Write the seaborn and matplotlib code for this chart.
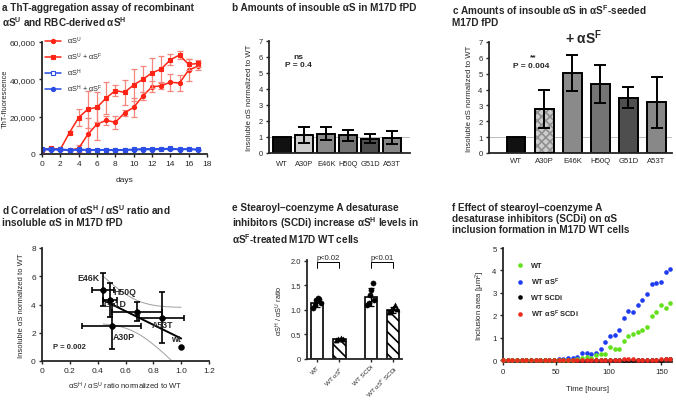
import numpy as np
import matplotlib
matplotlib.use("Agg")
import matplotlib.pyplot as plt
import seaborn as sns

# ---- a: ThT aggregation assay ----
days = list(range(18))
su = [2500, 2500, 2500, 2000, 3000, 10500, 16000, 18000, 17000, 22000, 25000,
      31000, 36000, 36500, 38500, 38000, 45000, 47000]
su_err = [500, 500, 300, 300, 2000, 9000, 8500, 2500, 3500, 1500, 5000,
          2000, 3000, 1500, 4500, 4500, 6000, 2000]
su_sf = [2000, 3000, 2500, 11500, 19500, 24000, 25000, 30000, 34000, 33000, 37000,
         40000, 43500, 45500, 50500, 53000, 48000, 48500]
su_sf_err = [500, 800, 300, 1000, 4500, 10000, 8000, 8500, 3000, 6500, 8500,
             7000, 8000, 7000, 3000, 2000, 3000, 2000]
sh = [2800, 2700, 2600, 2200, 2500, 2300, 2300, 2300, 2200, 2300, 2500,
      2800, 2800, 2800, 3000, 2600, 2800, 2500]
sh_sf = [2300, 2300, 2200, 2000, 2200, 2100, 2100, 2100, 2000, 2100, 2200,
         2400, 2400, 2500, 2600, 2400, 2500, 2200]

# ---- b / c: insoluble aS in fPD mutants ----
mutants = ['WT', 'A30P', 'E46K', 'H50Q', 'G51D', 'A53T']
b_vals = [1.0, 1.1, 1.2, 1.1, 0.9, 0.95]
b_err = [0, 0.5, 0.4, 0.35, 0.3, 0.4]
c_vals = [1.0, 2.8, 5.05, 4.35, 3.5, 3.2]
c_err = [0, 1.2, 1.15, 1.2, 0.65, 1.6]

# ---- d: correlation ----
d_labels = ['wt', 'A30P', 'E46K', 'H50Q', 'G51D', 'A53T']
d_ratio = [1.0, 0.5, 0.44, 0.49, 0.68, 0.86]
d_ratio_err = [0, 0.21, 0.08, 0.05, 0.18, 0.16]
d_insol = [1.0, 2.45, 5.05, 4.35, 3.5, 3.05]
d_insol_err = [0, 1.6, 1.15, 1.2, 0.65, 1.8]

# ---- e: SCDi and aSH/aSU ratio ----
e_groups = ['WT', r'WT αS$^{\mathrm{F}}$', 'WT SCDi', r'WT αS$^{\mathrm{F}}$ SCDi']
e_means = [1.15, 0.40, 1.27, 1.00]
e_err = [0.08, 0.02, 0.18, 0.06]
e_wt = [1.05, 1.1, 1.2, 1.25, 1.22, 1.15]
e_wt_sf = [0.38, 0.40, 0.42, 0.41]
e_scdi = [1.1, 1.15, 1.3, 1.4, 1.55, 1.2]
e_sf_scdi = [0.95, 1.0, 1.05, 1.1, 1.02]

# ---- f: inclusion formation ----
hours = [0, 4.4, 8.8, 13.2, 17.6, 22, 26.4, 30.8, 35.2, 39.6, 44, 48.4, 52.8,
         57.2, 61.6, 66, 70.4, 74.8, 79.2, 83.6, 88, 92.4, 96.8, 101.2, 105.6,
         110, 114.4, 118.8, 123.2, 127.6, 132, 136.4, 140.8, 145.2, 149.6, 154, 158.4]
f_wt = [0, 0, 0, 0, 0, 0, 0, 0, 0, 0, 0, 0, 0, 0,
        0.02, 0.03, 0.05, 0.1, 0.15, 0.12, 0.22, 0.27, 0.28, 0.6, 0.52, 0.52,
        0.86, 1.08, 1.19, 1.24, 1.34, 1.5, 1.95, 2.13, 2.46, 2.32, 2.57]
f_wt_sf = [0, 0, 0, 0, 0, 0, 0.02, 0.03, 0.02, 0.03, 0.03, 0.02, 0.05, 0.05,
           0.08, 0.12, 0.15, 0.3, 0.31, 0.27, 0.34, 0.49, 0.8, 1.06, 1.12, 1.35,
           1.86, 2.2, 2.17, 2.47, 2.69, 2.97, 3.39, 3.44, 3.47, 3.91, 4.06]
f_scdi = [0, 0, 0, 0, 0, 0, 0, -0.01, 0, 0, 0, 0, 0, 0, 0, 0, 0, 0,
          0.01, 0.02, 0.01, 0.01, 0.02, 0.01, 0.01, 0.02, 0.01, 0.02, 0.02,
          0.01, 0.02, 0.02, 0.02, 0.03, 0.02, 0.04, 0.06]
f_sf_scdi = [0, 0, 0, 0, 0, 0, 0.03, 0.02, 0.02, 0.03, 0.01, 0, 0, 0, 0, 0,
             0, 0, 0, 0, 0, 0, 0, 0, 0.01, 0.02, 0.04, 0.05, 0.04, 0.03, 0.03,
             0.02, 0.02, 0.03, 0.04, 0.05, 0.04]

sns.set_theme(style='ticks')
plt.rcParams['font.family'] = ['Liberation Sans', 'DejaVu Sans']
plt.rcParams['mathtext.fontset'] = 'custom'
plt.rcParams['mathtext.rm'] = 'Liberation Sans'
plt.rcParams['mathtext.it'] = 'Liberation Sans:italic'
plt.rcParams['mathtext.bf'] = 'Liberation Sans:bold'
plt.rcParams['hatch.linewidth'] = 1.2
plt.rcParams['xtick.labelsize'] = 5.5
plt.rcParams['ytick.labelsize'] = 5.5
plt.rcParams['axes.labelsize'] = 5.5
plt.rcParams['axes.linewidth'] = 1.3
plt.rcParams['xtick.major.width'] = 1.0
plt.rcParams['ytick.major.width'] = 1.0
plt.rcParams['xtick.major.size'] = 2.5
plt.rcParams['ytick.major.size'] = 2.5
plt.rcParams['xtick.major.pad'] = 2
plt.rcParams['ytick.major.pad'] = 2

W, H = 676, 402
fig = plt.figure(figsize=(W / 100, H / 100), dpi=100)


def add_ax(l, t, r, b):
    return fig.add_axes([l / W, 1 - b / H, (r - l) / W, (b - t) / H])


def title(x, y, s):
    fig.text(x / W, 1 - y / H, s, ha='left', va='top', fontsize=7.2,
             fontweight='bold', linespacing=1.15)


def sup(s, bold=True):
    return r'$^{\mathbf{%s}}$' % s if bold else r'$^{\mathrm{%s}}$' % s


# --- panel a ---
title(2, 3, 'a ThT-aggregation assay of recombinant\nαS' + sup('U') +
      ' and RBC-derived αS' + sup('H'))
ax = add_ax(42, 43, 207, 155)
red, red_err = '#ff2415', '#f5847a'
blue, blue_err = '#2a4de6', '#8ea2f2'
series_a = [
    (su, su_err, red, red_err, 'o', red, 'αS' + sup('U', False)),
    (su_sf, su_sf_err, red, red_err, 's', red, 'αS' + sup('U', False) + ' + αS' + sup('F', False)),
    (sh, [250] * 18, blue, blue_err, 's', 'white', 'αS' + sup('H', False)),
    (sh_sf, [200] * 18, blue, blue_err, 'o', blue, 'αS' + sup('H', False) + ' + αS' + sup('F', False)),
]
for vals, errs, col, ecol, mk, mfc, lab in series_a:
    ax.errorbar(days, vals, yerr=errs, fmt='none', ecolor=ecol, capsize=2,
                elinewidth=0.9, capthick=0.9)
    sns.lineplot(x=days, y=vals, ax=ax, color=col, marker=mk, markersize=3,
                 markerfacecolor=mfc, markeredgecolor=col, markeredgewidth=0.8,
                 lw=1.1, label=lab)
ax.set_xlim(0, 18)
ax.set_ylim(0, 60000)
ax.set_xticks(range(0, 19, 2))
ax.set_yticks([0, 20000, 40000, 60000])
ax.set_yticklabels(['0', '20,000', '40,000', '60,000'])
ax.tick_params(labelsize=6)
ax.set_xlabel('days', fontsize=6, labelpad=6)
ax.set_ylabel('ThT-fluorescence', fontsize=5.4)
ax.yaxis.set_label_coords(-0.2, 0.5)
ax.legend(loc='upper left', bbox_to_anchor=(0.0, 1.09), frameon=False,
          fontsize=5.3, handlelength=2.2, labelspacing=0.65, borderaxespad=0)
sns.despine(ax=ax)

# --- panel b ---
title(232, 3, 'b Amounts of insouble αS in M17D fPD')
bar_cols = ['#111111', '#cdcdcd', '#8a8a8a', '#747474', '#4e4e4e', '#888888']
ax = add_ax(269, 42, 410, 154)
ax.axhline(1, color='#b0b0b0', lw=0.6, zorder=0)
sns.barplot(x=mutants, y=b_vals, hue=mutants, palette=bar_cols, legend=False,
            ax=ax, width=0.82, edgecolor='black', linewidth=1.4, saturation=1)
ax.errorbar(range(1, 6), b_vals[1:], yerr=b_err[1:], fmt='none', ecolor='black',
            capsize=4, elinewidth=1.4, capthick=1.4)
ax.set_xlim(-0.6, 5.8)
ax.set_ylim(0, 7)
ax.set_yticks(range(8))
ax.set_xlabel('')
ax.set_ylabel('Insoluble αS normalized to WT', fontsize=5.6)
ax.tick_params(axis='x', length=0, pad=5)
ax.tick_params(labelsize=5.4)
ax.text(0.73, 6.0, 'ns', ha='center', va='center', fontsize=6, fontweight='bold')
ax.text(0.73, 5.5, 'P = 0.4', ha='center', va='center', fontsize=6, fontweight='bold')
sns.despine(ax=ax)

# --- panel c ---
title(452, 3, 'c Amounts of insouble αS in αS' + sup('F') + '-seeded\nM17D fPD')
ax = add_ax(489, 43, 672, 154)
ax.axhline(1, color='#b0b0b0', lw=0.6, zorder=0)
sns.barplot(x=mutants, y=c_vals, hue=mutants, palette=bar_cols, legend=False,
            ax=ax, width=0.66, edgecolor='black', linewidth=1.4, saturation=1)
ax.bar(1, c_vals[1], width=0.66, facecolor='none', edgecolor='#909090', lw=0,
       hatch='xxxx', zorder=3)
ax.bar(1, c_vals[1], width=0.66, facecolor='none', edgecolor='black', lw=1.4, zorder=4)
ax.errorbar(range(1, 6), c_vals[1:], yerr=c_err[1:], fmt='none', ecolor='black',
            capsize=4, elinewidth=1.4, capthick=1.4, zorder=5)
ax.set_xlim(-0.97, 5.55)
ax.set_ylim(0, 7)
ax.set_yticks(range(8))
ax.set_xlabel('')
ax.set_ylabel('Insoluble αS normalized to WT', fontsize=5.6)
ax.tick_params(axis='x', length=0, pad=3)
ax.tick_params(labelsize=5.6)
ax.text(2.4, 7.35, '+ αS' + sup('F'), ha='center', va='center', fontsize=10,
        fontweight='bold')
ax.text(0.6, 6.1, '**', ha='center', va='center', fontsize=6, fontweight='bold')
ax.text(0.55, 5.5, 'P = 0.004', ha='center', va='center', fontsize=6, fontweight='bold')
sns.despine(ax=ax)

# --- panel d ---
title(2, 203, 'd Correlation of αS' + sup('H') + ' / αS' + sup('U') +
      ' ratio and\ninsoluble αS in M17D fPD')
ax = add_ax(42, 249, 209, 362)
xr = np.array(d_ratio)
yi = np.array(d_insol)
slope, icpt = np.polyfit(xr, yi, 1)
n = len(xr)
resid = yi - (slope * xr + icpt)
s_err = np.sqrt(np.sum(resid ** 2) / (n - 2))
sxx = np.sum((xr - xr.mean()) ** 2)
xf = np.linspace(xr.min(), xr.max(), 60)
yf = slope * xf + icpt
band = 2.776 * s_err * np.sqrt(1 / n + (xf - xr.mean()) ** 2 / sxx)
ax.plot(xf, yf + band, color='#a0a0a0', lw=0.7)
ax.plot(xf, yf - band, color='#a0a0a0', lw=0.7)
sns.lineplot(x=xf, y=yf, ax=ax, color='black', lw=1.4)
ax.errorbar(d_ratio[1:], d_insol[1:], xerr=d_ratio_err[1:], yerr=d_insol_err[1:],
            fmt='none', ecolor='black', capsize=2.5, elinewidth=1.2, capthick=1.2)
sns.scatterplot(x=d_ratio, y=d_insol, ax=ax, color='black', s=18, zorder=5,
                edgecolor='black')
label_pos = {'wt': (0.93, 1.6, 'left'), 'A30P': (0.51, 1.75, 'left'),
             'E46K': (0.41, 5.9, 'right'), 'H50Q': (0.51, 4.95, 'left'),
             'G51D': (0.44, 4.1, 'left'), 'A53T': (0.79, 2.55, 'left')}
for lab in d_labels:
    x0, y0, ha = label_pos[lab]
    ax.text(x0, y0, lab, ha=ha, va='center', fontsize=6.3, fontweight='bold')
ax.text(0.08, 1.0, 'P = 0.002', ha='left', va='center', fontsize=5.5, fontweight='bold')
ax.set_xlim(0, 1.2)
ax.set_ylim(0, 8)
ax.set_xticks([0, 0.2, 0.4, 0.6, 0.8, 1.0, 1.2])
ax.set_xticklabels(['0', '0.2', '0.4', '0.6', '0.8', '1.0', '1.2'])
ax.set_yticks([0, 2, 4, 6, 8])
ax.tick_params(labelsize=6)
ax.set_xlabel('αS' + sup('H', False) + ' / αS' + sup('U', False) +
              ' ratio normalized to WT', fontsize=5.5)
ax.set_ylabel('Insoluble αS normalized to WT', fontsize=5.5)
sns.despine(ax=ax)

# --- panel e ---
title(232, 203, 'e Stearoyl–coenzyme A desaturase\ninhibitors (SCDi) increase αS' +
      sup('H') + ' levels in\nαS' + sup('F') + '-treated M17D WT cells')
ax = add_ax(307, 261, 402, 360)
e_pos = [0, 1, 2.4, 3.4]
bars = ax.bar(e_pos, e_means, width=0.55, color='white', edgecolor='black', lw=1.2)
for bar_patch, hatch in zip(bars, [None, '\\\\\\', None, '\\\\\\']):
    bar_patch.set_hatch(hatch)
ax.errorbar(e_pos, e_means, yerr=e_err, fmt='none', ecolor='black', capsize=2,
            elinewidth=0.9, capthick=0.9)
for pos, pts, mk in zip(e_pos, [e_wt, e_wt_sf, e_scdi, e_sf_scdi], ['o', '^', 'o', '^']):
    jitter = np.linspace(-0.16, 0.16, len(pts))
    sns.scatterplot(x=pos + jitter, y=pts, ax=ax, marker=mk, color='black', s=14,
                    edgecolor='black', zorder=4)
for x0, x1, txt in [(0, 1, 'p<0.02'), (2.4, 3.4, 'p<0.01')]:
    ax.plot([x0, x0, x1, x1], [1.86, 1.97, 1.97, 1.86], color='black', lw=0.7,
            clip_on=False)
    ax.text((x0 + x1) / 2, 2.0, txt, ha='center', va='bottom', fontsize=5.5)
ax.set_xlim(-0.45, 3.8)
ax.set_ylim(0, 2.02)
ax.set_yticks([0, 0.5, 1.0, 1.5, 2.0])
ax.set_yticklabels(['0', '0.5', '1.0', '1.5', '2.0'])
ax.set_xticks(e_pos)
ax.set_xticklabels(e_groups, rotation=45, ha='right', rotation_mode='anchor', fontsize=4.6)
ax.tick_params(axis='x', pad=1)
ax.tick_params(axis='y', labelsize=5.4)
ax.set_ylabel('αS' + sup('H', False) + ' / αS' + sup('U', False) + ' ratio', fontsize=5.3)
sns.despine(ax=ax)

# --- panel f ---
title(452, 203, 'f Effect of stearoyl–coenzyme A\ndesaturase inhibitors (SCDi) on αS\n'
      'inclusion formation in M17D WT cells')
ax = add_ax(503, 249, 672, 363)
f_series = [
    (f_wt_sf, '#1f3cf0', 'WT αS' + sup('F')),
    (f_scdi, 'black', 'WT SCDi'),
    (f_wt, '#62e01c', 'WT'),
    (f_sf_scdi, '#ee2a1e', 'WT αS' + sup('F') + ' SCDi'),
]
handles = {}
for vals, col, lab in f_series:
    sns.scatterplot(x=hours, y=vals, ax=ax, color=col, s=11, linewidth=0,
                    clip_on=False, zorder=3)
    handles[lab] = plt.Line2D([], [], ls='', marker='o', markersize=3.3,
                              color=col, markeredgewidth=0)
order = ['WT', 'WT αS' + sup('F'), 'WT SCDi', 'WT αS' + sup('F') + ' SCDi']
leg = ax.legend([handles[k] for k in order], order, loc='upper left',
                bbox_to_anchor=(0.05, 0.9), frameon=False, fontsize=5.3,
                handlelength=1.5, labelspacing=0.9, borderaxespad=0)
for t in leg.get_texts():
    t.set_fontweight('bold')
ax.set_xlim(0, 160)
ax.set_ylim(-0.08, 5)
ax.set_xticks([0, 50, 100, 150])
ax.set_yticks(range(6))
ax.tick_params(labelsize=5.6)
ax.set_xlabel('Time [hours]', fontsize=5.6, labelpad=7)
ax.set_ylabel('Inclusion area [µm$^{2}$]', fontsize=5.6)
sns.despine(ax=ax)

fig.savefig('out.png', dpi=100)
